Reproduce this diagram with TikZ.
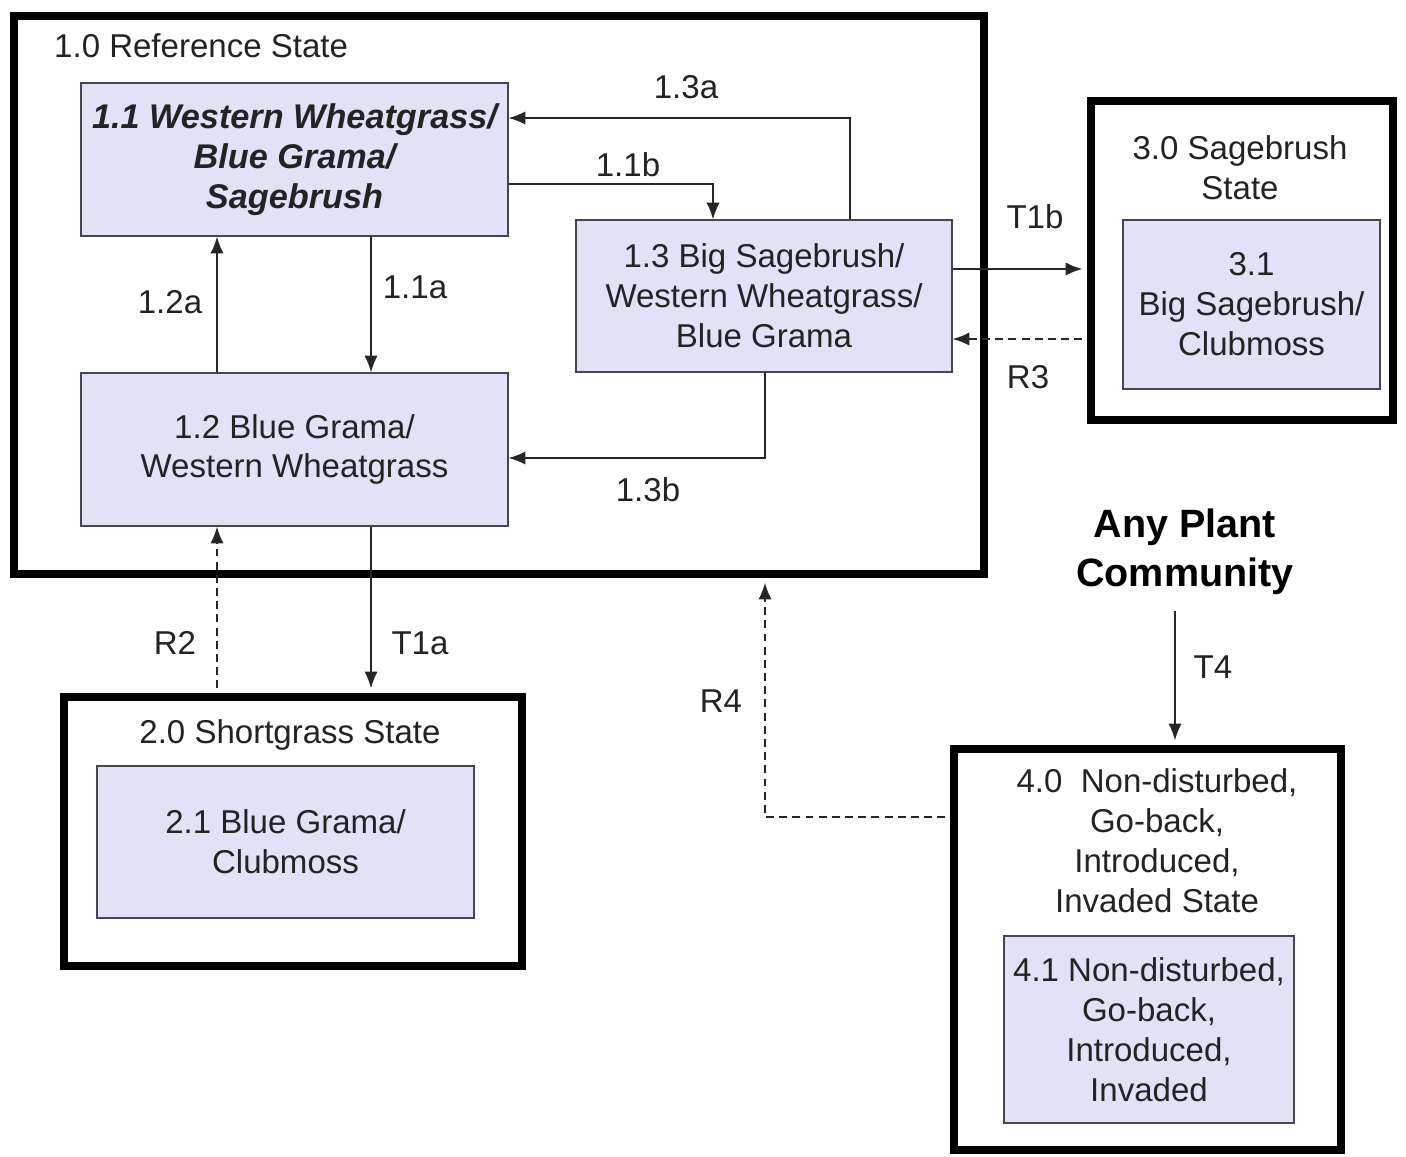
\documentclass[tikz,border=0pt]{standalone}
\usepackage{fontspec}
\setmainfont{Liberation Sans}
\usepackage{tikz}
\usetikzlibrary{arrows.meta}

\definecolor{boxfill}{RGB}{225,225,248}
\definecolor{boxline}{RGB}{70,70,80}
\definecolor{txt}{RGB}{35,35,35}

\begin{document}
\begin{tikzpicture}[x=0.02cm, y=-0.02cm,
    every node/.style={font=\fontsize{18.8}{22.7}\selectfont, text=txt, align=center},
    community/.style={draw=boxline, line width=0.8pt, fill=boxfill, inner sep=0pt},
    statebox/.style={draw=black, line width=5pt, inner sep=0pt},
    trans/.style={draw=black!85, line width=0.8pt, -{Latex[length=9.5pt,width=7.5pt]}},
    restore/.style={trans, dash pattern=on 4.5pt off 3pt}]
        \useasboundingbox (0,0) rectangle (1406,1156);
        \node[statebox, minimum width=19.4cm, minimum height=11.16cm] (s1) at (499,295) {};
        \node[statebox, minimum width=6.04cm, minimum height=6.38cm] (s3) at (1242,260.5) {};
        \node[statebox, minimum width=9.16cm, minimum height=5.38cm] (s2) at (293,831.5) {};
        \node[statebox, minimum width=7.74cm, minimum height=8.02cm] (s4) at (1147.5,949.5) {};
        \node[anchor=west] (t1) at (48,46) {1.0 Reference State};
        \node (t3) at (1240,168) {3.0 Sagebrush\\State};
        \node (t2) at (290,735) {2.0 Shortgrass State};
        \node (t4) at (1157,840.5) {4.0\ \ Non-disturbed,\\Go-back,\\Introduced,\\Invaded State};
        \node[community, minimum width=8.54cm, minimum height=3.06cm, font=\fontsize{19.5}{22.7}\selectfont\bfseries\itshape] (b11) at (294.5,159.5) {1.1 Western Wheatgrass/\\Blue Grama/\\Sagebrush};
        \node[community, minimum width=8.54cm, minimum height=3.06cm] (b12) at (294.5,449.5) {1.2 Blue Grama/\\Western Wheatgrass};
        \node[community, minimum width=7.52cm, minimum height=3.04cm] (b13) at (764,296) {1.3 Big Sagebrush/\\Western Wheatgrass/\\Blue Grama};
        \node[community, minimum width=5.14cm, minimum height=3.38cm] (b31) at (1251.5,304.5) {3.1\\Big Sagebrush/\\Clubmoss};
        \node[community, minimum width=7.54cm, minimum height=3.04cm] (b21) at (285.5,842) {2.1 Blue Grama/\\Clubmoss};
        \node[community, minimum width=5.8cm, minimum height=3.74cm] (b41) at (1149,1029.5) {4.1 Non-disturbed,\\Go-back,\\Introduced,\\Invaded};
        \node[font=\fontsize{22.5}{27.8}\selectfont\bfseries, text=black, inner sep=9pt] (apc) at (1185,552) {Any Plant\\Community};
        \draw[trans] (b13.north -| 850,0) |- (b11.east |- 0,118);
        \draw[trans] (b11.east |- 0,184) -| (b13.north -| 713,0);
        \draw[trans] (b11.south -| 371,0) -- (b12.north -| 371,0);
        \draw[trans] (b12.north -| 217,0) -- (b11.south -| 217,0);
        \draw[trans] (b13.south -| 765,0) |- (b12.east |- 0,458);
        \draw[trans, shorten >=2.5pt] (b13.east |- 0,269) -- (s3.west |- 0,269);
        \draw[restore, shorten <=2.5pt] (s3.west |- 0,339) -- (b13.east |- 0,339);
        \draw[trans, shorten >=2.5pt] (b12.south -| 371,0) -- (s2.north -| 371,0);
        \draw[restore, shorten <=2.5pt] (s2.north -| 217,0) -- (b12.south -| 217,0);
        \draw[trans, shorten >=2.5pt] (apc.south -| 1175,0) -- (s4.north -| 1175,0);
        \draw[restore, shorten <=2.5pt, shorten >=2.5pt] (s4.west |- 0,817) -| (s1.south -| 765,0);
        \node (l13a) at (686,87) {1.3a};
        \node (l11b) at (628,165) {1.1b};
        \node (l11a) at (415,287) {1.1a};
        \node (l12a) at (170,302) {1.2a};
        \node (l13b) at (648,490) {1.3b};
        \node (lt1b) at (1035,217) {T1b};
        \node (lr3) at (1028,377) {R3};
        \node (lt1a) at (420,643) {T1a};
        \node (lr2) at (175,643) {R2};
        \node (lr4) at (721,701) {R4};
        \node (lt4) at (1213,667) {T4};
      \end{tikzpicture}
\end{document}
